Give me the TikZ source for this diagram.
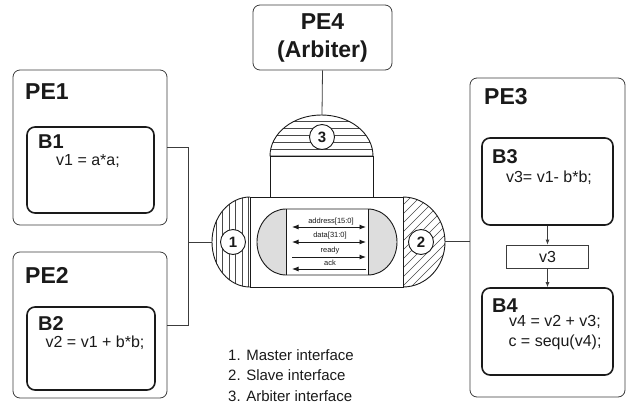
\documentclass[tikz,border=0pt]{standalone}
\usepackage{fontspec}
\setmainfont{Liberation Sans}
\usetikzlibrary{arrows.meta}
\definecolor{ink}{HTML}{1A1A1A}
\definecolor{capgray}{HTML}{DDDDDD}
\begin{document}
\begin{tikzpicture}[x=1pt,y=-1pt,
  pebox/.style={draw=ink!85, line width=0.8pt, rounded corners=7pt, inner sep=0pt},
  bbox/.style={draw=ink, line width=1.6pt, rounded corners=8pt, inner sep=0pt},
  petitle/.style={font=\bfseries\fontsize{23}{23}\selectfont, text=ink, anchor=west, inner sep=0pt},
  btitle/.style={font=\bfseries\fontsize{20}{20}\selectfont, text=ink, anchor=west, inner sep=0pt},
  code/.style={font=\fontsize{16}{20}\selectfont, text=ink, inner sep=0pt, align=center},
  legend/.style={font=\fontsize{15}{15}\selectfont, text=ink, anchor=west, inner sep=0pt},
  sig/.style={font=\fontsize{7.5}{8}\selectfont, text=ink, inner sep=0pt},
  sigline/.style={line width=0.9pt, draw=ink},
  ifc/.style={circle, draw=ink, fill=white, line width=0.9pt, minimum size=25pt, inner sep=0pt, font=\bfseries\fontsize{15}{15}\selectfont, text=ink},
  outl/.style={draw=ink, line width=0.9pt},
  hatch/.style={draw=ink!80, line width=0.6pt},
  conn/.style={draw=ink!85, line width=0.8pt},
  arr/.style={draw=ink!85, line width=0.8pt, -{Latex[length=5pt,width=4pt]}}
]
\useasboundingbox (0,0) rectangle (627,408);

% ---------- PE1 ----------
\node[pebox, minimum width=154pt, minimum height=155pt] (pe1) at (90,147.5) {};
\node[petitle] (pe1t) at (25,92) {PE1};
\node[bbox, minimum width=127pt, minimum height=86pt] (b1) at (90.5,170) {};
\node[btitle] (b1t) at (38,142) {B1};
\node[code] (b1c) at (88,161) {v1 = a*a;};

% ---------- PE2 ----------
\node[pebox, minimum width=154pt, minimum height=146pt] (pe2) at (90,325) {};
\node[petitle] (pe2t) at (25,275) {PE2};
\node[bbox, minimum width=128pt, minimum height=83pt] (b2) at (91,348.5) {};
\node[btitle] (b2t) at (38,324) {B2};
\node[code] (b2c) at (95,343) {v2 = v1 + b*b;};

% ---------- PE3 ----------
\node[pebox, minimum width=155pt, minimum height=319pt] (pe3) at (547.5,237.5) {};
\node[petitle] (pe3t) at (484,97) {PE3};
\node[bbox, minimum width=131pt, minimum height=87pt] (b3) at (547.5,181.5) {};
\node[btitle] (b3t) at (492,157) {B3};
\node[code] (b3c) at (549,178) {v3= v1- b*b;};
\node[draw=ink!85, line width=0.8pt, minimum width=82pt, minimum height=23pt, inner sep=0pt, font=\fontsize{16}{16}\selectfont, text=ink] (v3) at (547.5,256.5) {v3};
\node[bbox, minimum width=131pt, minimum height=87pt] (b4) at (547.5,331.5) {};
\node[btitle] (b4t) at (492,305.5) {B4};
\node[code] (b4c) at (555,332.5) {v4 = v2 + v3;\\c = sequ(v4);};
\draw[arr] (b3.south) -- (v3.north);
\draw[arr] (v3.south) -- (b4.north);

% ---------- PE4 ----------
\node[pebox, minimum width=139pt, minimum height=65pt, align=center,
      font=\bfseries\fontsize{23}{28}\selectfont, text=ink] (pe4) at (322.5,37.5) {PE4\\(Arbiter)};

% ---------- interface block ----------
\begin{scope}
  \clip (270,156) arc[start angle=180,end angle=0,x radius=51.5pt,y radius=41pt] -- cycle;
  \foreach \yy in {121,128,...,156} \draw[hatch] (260,\yy) -- (385,\yy);
\end{scope}
\draw[outl] (270,156) arc[start angle=180,end angle=0,x radius=51.5pt,y radius=41pt] -- cycle;
\draw[outl] (270,156) rectangle (373,197);
\begin{scope}
  \clip (250,197) arc[start angle=90,end angle=270,x radius=38pt,y radius=45pt] -- cycle;
  \foreach \xx in {216,222.5,...,250} \draw[hatch] (\xx,190) -- (\xx,295);
\end{scope}
\draw[outl] (250,197) arc[start angle=90,end angle=270,x radius=38pt,y radius=45pt];
\begin{scope}
  \clip (403,197) arc[start angle=90,end angle=-90,x radius=42pt,y radius=45pt] -- cycle;
  \foreach \k in {-96,-87,...,50} \draw[hatch] (403+\k,292) -- ++(100,-100);
\end{scope}
\draw[outl] (403,197) arc[start angle=90,end angle=-90,x radius=42pt,y radius=45pt];
\draw[outl, fill=white] (250,197) rectangle (403,287);
\fill[capgray] (286,209) arc[start angle=90,end angle=270,x radius=29pt,y radius=33pt] -- cycle;
\fill[capgray] (368,209) arc[start angle=90,end angle=-90,x radius=29pt,y radius=33pt] -- cycle;
\draw[outl] (286,209) -- (368,209) arc[start angle=90,end angle=-90,x radius=29pt,y radius=33pt]
  -- (286,275) arc[start angle=270,end angle=90,x radius=29pt,y radius=33pt] -- cycle;
\draw[outl] (286,209) -- (286,275);
\draw[outl] (368,209) -- (368,275);
\node[sig] (sa) at (331,222) {address[15:0]};
\node[sig] (sd) at (330,236) {data[31:0]};
\node[sig] (sr) at (330,250.5) {ready};
\node[sig] (sk) at (330,263) {ack};
\coordinate (al) at (292,227); \coordinate (ar) at (366,227);
\coordinate (dl) at (292,242); \coordinate (dr) at (366,242);
\coordinate (rl) at (292,257); \coordinate (rr) at (366,257);
\coordinate (kl) at (292,269); \coordinate (kr) at (366,269);
\draw[sigline, {Latex[length=6.5pt,width=5pt]}-{Latex[length=6.5pt,width=5pt]}] (al) -- (ar);
\draw[sigline, {Latex[length=6.5pt,width=5pt]}-{Latex[length=6.5pt,width=5pt]}] (dl) -- (dr);
\draw[sigline, -{Latex[length=6.5pt,width=5pt]}] (rl) -- (rr);
\draw[sigline, {Latex[length=6.5pt,width=5pt]}-] (kl) -- (kr);

\node[ifc] (c1) at (233,242) {1};
\node[ifc] (c2) at (421,242) {2};
\node[ifc] (c3) at (322,137) {3};

% ---------- connectors ----------
\coordinate (arbtop) at (322,115);
\coordinate (ldome) at (212,242);
\coordinate (rdome) at (445,241);
\coordinate (jn) at (188,242);
\draw[conn] (pe4.south) -- (arbtop);
\draw[conn] (pe1.east) -- (188,147.5) |- (pe2.east);
\draw[conn] (jn) -- (ldome);
\draw[conn] (rdome) -- (rdome -| pe3.west);

% ---------- legend ----------
\node[legend] (l1) at (228,355.5) {1. Master interface};
\node[legend] (l2) at (228,375) {2. Slave interface};
\node[legend] (l3) at (228,396) {3. Arbiter interface};
\end{tikzpicture}
\end{document}
